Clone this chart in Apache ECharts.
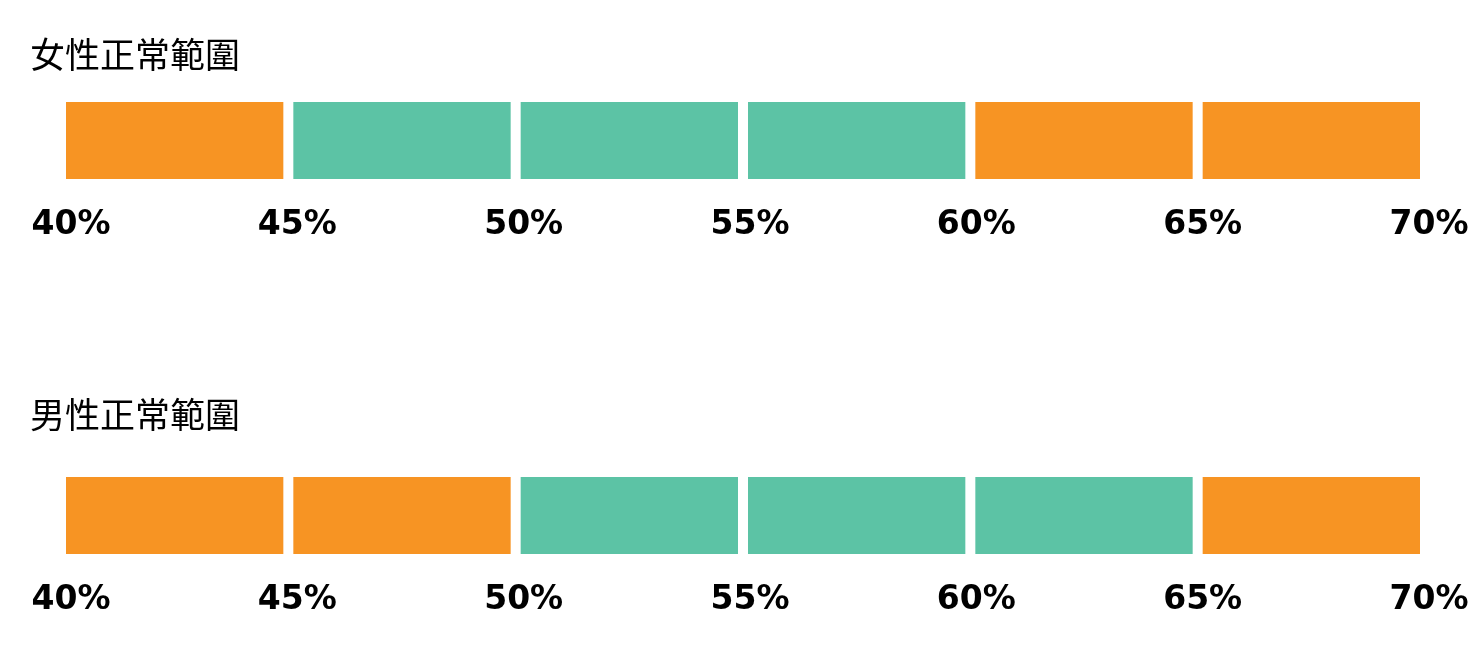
<!DOCTYPE html>
<html>
<head>
<meta charset="utf-8">
<script src="https://cdn.jsdelivr.net/npm/echarts@6/dist/echarts.min.js"></script>
<style>html,body{margin:0;padding:0;background:#fff}#c{width:1478px;height:645px}</style>
</head>
<body>
<div id="c"></div>
<script>
// ---- data ----
var rowTitles = ['女性正常範圍', '男性正常範圍'];
var segStarts = [40, 45, 50, 55, 60, 65];
var segEnds = [45, 50, 55, 60, 65, 70];
var femaleStatus = ['out', 'in', 'in', 'in', 'out', 'out'];
var maleStatus = ['out', 'out', 'in', 'in', 'in', 'out'];
var tickMin = 40, tickMax = 70, tickStep = 5;

var ORANGE = '#F79423', TEAL = '#5CC3A5';
var rows = [femaleStatus, maleStatus];
var barTops = [102, 477];
var labelTops = [208, 583];
var titleTops = [32, 392];

var chart = echarts.init(document.getElementById('c'));
var grids = [], xAxes = [], yAxes = [], series = [], titles = [];

rows.forEach(function (status, r) {
  titles.push({
    text: rowTitles[r], left: 25, top: titleTops[r],
    textStyle: {fontFamily: 'Noto Sans CJK TC', fontSize: 35, fontWeight: 'normal', color: '#000'}
  });
  // bar grid
  var gi = grids.length;
  grids.push({left: 61, right: 53, top: barTops[r], height: 77});
  xAxes.push({gridIndex: gi, type: 'value', min: tickMin, max: tickMax, interval: tickStep, show: false});
  yAxes.push({gridIndex: gi, type: 'value', min: 0, max: 1, show: false});
  series.push({
    type: 'custom', xAxisIndex: gi, yAxisIndex: gi,
    data: segStarts.map(function (s, i) { return [s, segEnds[i], status[i] === 'in' ? 1 : 0]; }),
    renderItem: function (params, api) {
      var p0 = api.coord([api.value(0), 1]);
      var p1 = api.coord([api.value(1), 0]);
      var inset = 5;
      return {
        type: 'rect',
        shape: {x: p0[0] + inset, y: p0[1], width: p1[0] - p0[0] - 2 * inset, height: p1[1] - p0[1]},
        style: {fill: api.value(2) ? TEAL : ORANGE}
      };
    },
    silent: true
  });
  // label grid
  var li = grids.length;
  grids.push({left: 71, right: 49, top: labelTops[r], height: 1});
  xAxes.push({
    gridIndex: li, type: 'value', min: tickMin, max: tickMax, interval: tickStep,
    axisLine: {show: false}, axisTick: {show: false}, splitLine: {show: false},
    axisLabel: {
      show: true, margin: 0, formatter: '{value}%', color: '#000',
      fontFamily: 'DejaVu Sans', fontWeight: 'bold', fontSize: 33,
      showMinLabel: true, showMaxLabel: true
    }
  });
  yAxes.push({gridIndex: li, type: 'value', min: 0, max: 1, show: false});
});

chart.setOption({
  animation: false,
  backgroundColor: '#fff',
  title: titles,
  grid: grids,
  xAxis: xAxes,
  yAxis: yAxes,
  series: series
});
</script>
</body>
</html>
